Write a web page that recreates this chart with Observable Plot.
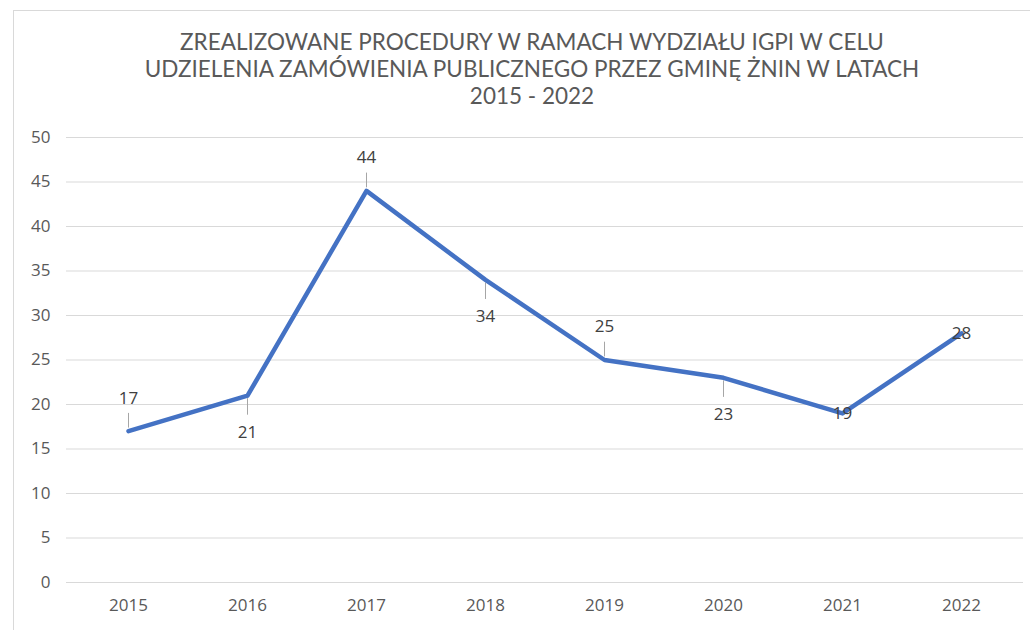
<!DOCTYPE html>
<html>
<head>
<meta charset="utf-8">
<script src="https://cdn.jsdelivr.net/npm/d3@7"></script>
<script src="https://cdn.jsdelivr.net/npm/@observablehq/plot@0.6"></script>
<style>
  html, body { margin: 0; padding: 0; background: #fff; overflow: hidden; width: 1030px; height: 630px; }
  #frame { position: absolute; left: 13px; top: 10px; width: 1100px; height: 700px;
           border-left: 1px solid #d9d9d9; border-top: 1px solid #d9d9d9; pointer-events: none; }
  #title { box-sizing: border-box; height: 120px; margin-left: 13px; width: 1038px; padding-top: 28px;
           text-align: center; font-family: Lato, "Open Sans", sans-serif; font-size: 22.5px; line-height: 27px;
           color: #595959; }
  #chart svg { display: block; }
</style>
</head>
<body>
<div id="frame"></div>
<div id="title">ZREALIZOWANE PROCEDURY W RAMACH WYDZIAŁU IGPI W CELU<br>UDZIELENIA ZAMÓWIENIA PUBLICZNEGO PRZEZ GMINĘ ŻNIN W LATACH<br>2015 - 2022</div>
<div id="chart"></div>
<script>
const years = ["2015", "2016", "2017", "2018", "2019", "2020", "2021", "2022"];
const values = [17, 21, 44, 34, 25, 23, 19, 28];
const labelPlacement = ["above", "below", "above", "below", "above", "below", "center", "center"];
const yTicks = [0, 5, 10, 15, 20, 25, 30, 35, 40, 45, 50];

const data = years.map((year, i) => ({year, value: values[i], place: labelPlacement[i]}));
const leaders = data.filter(d => d.place !== "center");
const dyFor = p => p === "above" ? -33 : p === "below" ? 37 : 0;

const plot = Plot.plot({
  width: 1030,
  height: 510,
  marginTop: 17,
  marginBottom: 48,
  marginLeft: 66,
  marginRight: 7,
  style: {fontFamily: "'Open Sans', sans-serif", fontSize: "17px", color: "#595959", background: "transparent"},
  x: {type: "point", domain: years, padding: 0.5, label: null, tickSize: 0, tickPadding: 16},
  y: {domain: [0, 50], ticks: yTicks, label: null, tickSize: 0, tickPadding: 16},
  marks: [
    Plot.gridY(yTicks, {stroke: "#d9d9d9", strokeOpacity: 1, strokeWidth: 1}),
    Plot.axisX({tickSize: 0, tickPadding: 16, fontSize: 17, fill: "#595959"}),
    Plot.axisY(yTicks, {tickSize: 0, tickPadding: 16, fontSize: 17, fill: "#595959"}),
    Plot.ruleX(leaders, {
      x: "year",
      y1: d => d.place === "above" ? d.value + 0.35 : d.value - 0.35,
      y2: d => d.place === "above" ? d.value + 2.0 : d.value - 2.2,
      stroke: "#a6a6a6", strokeWidth: 1
    }),
    Plot.line(data, {x: "year", y: "value", stroke: "#4472C4", strokeWidth: 4.5, strokeLinejoin: "round", strokeLinecap: "round"}),
    ...["above", "below", "center"].map(p => Plot.text(data.filter(d => d.place === p), {
      x: "year", y: "value", text: d => String(d.value), dy: dyFor(p),
      fill: "#404040", fontSize: 17, fontFamily: "'Open Sans', sans-serif"
    }))
  ]
});
document.getElementById("chart").appendChild(plot);
</script>
</body>
</html>
